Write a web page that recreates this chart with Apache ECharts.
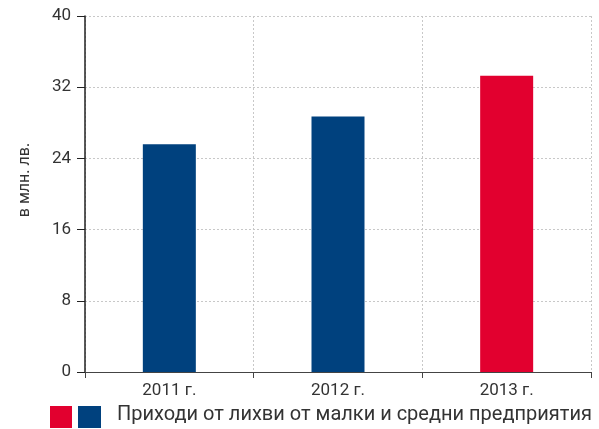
<!DOCTYPE html>
<html><head><meta charset="utf-8">
<script src="https://cdn.jsdelivr.net/npm/echarts@6/dist/echarts.min.js"></script>
<style>html,body{margin:0;padding:0;background:#fff}#c{width:599px;height:429px}</style>
</head><body><div id="c"></div>
<script>
const categories = ['2011 г.', '2012 г.', '2013 г.'];
const values = [25.6, 28.7, 33.3];
const barColors = ['#00417e', '#00417e', '#e2002f'];
const yTicks = [0, 8, 16, 24, 32, 40];
const yAxisName = 'в млн. лв.';
const legendText = 'Приходи от лихви от малки и средни предприятия';
const legendColors = ['#e2002f', '#00417e'];

const chart = echarts.init(document.getElementById('c'), null, {renderer: 'canvas'});
const font = 'Roboto, "Noto Sans", sans-serif';
chart.setOption({
  animation: false,
  grid: {left: 85, right: 8, top: 16, bottom: 57, containLabel: false, outerBoundsMode: 'none'},
  xAxis: {
    type: 'category', data: categories, boundaryGap: true,
    axisLine: {lineStyle: {color: '#444', width: 1}},
    axisTick: {show: true, length: 6, lineStyle: {color: '#444'}},
    axisLabel: {color: '#333', fontSize: 17, fontFamily: font, margin: 10},
    splitLine: {show: true, lineStyle: {color: '#c8c8c8', type: [2, 2], width: 1}}
  },
  yAxis: {
    type: 'value', min: yTicks[0], max: yTicks[yTicks.length - 1], interval: 8,
    name: yAxisName, nameLocation: 'middle', nameGap: 52, nameRotate: 90,
    nameTextStyle: {color: '#333', fontSize: 16, fontFamily: font, padding: [0, 0, 0, 28]},
    axisLine: {show: true, lineStyle: {color: '#222', width: 1.5}},
    axisTick: {show: true, length: 8, lineStyle: {color: '#222'}},
    axisLabel: {color: '#333', fontSize: 17, fontFamily: font, margin: 14},
    splitLine: {show: true, lineStyle: {color: '#c8c8c8', type: [2, 2], width: 1}}
  },
  series: [{
    type: 'bar', barWidth: 53,
    data: values.map((v, i) => ({value: v, itemStyle: {color: barColors[i]}}))
  }],
  graphic: [
    {type: 'rect', left: 50, top: 406, shape: {width: 22, height: 22}, style: {fill: legendColors[0]}},
    {type: 'rect', left: 78, top: 406, shape: {width: 23, height: 22}, style: {fill: legendColors[1]}},
    {type: 'text', left: 117, top: 405, style: {text: legendText, fill: '#333', fontSize: 20, fontFamily: font}}
  ]
});
</script></body></html>
